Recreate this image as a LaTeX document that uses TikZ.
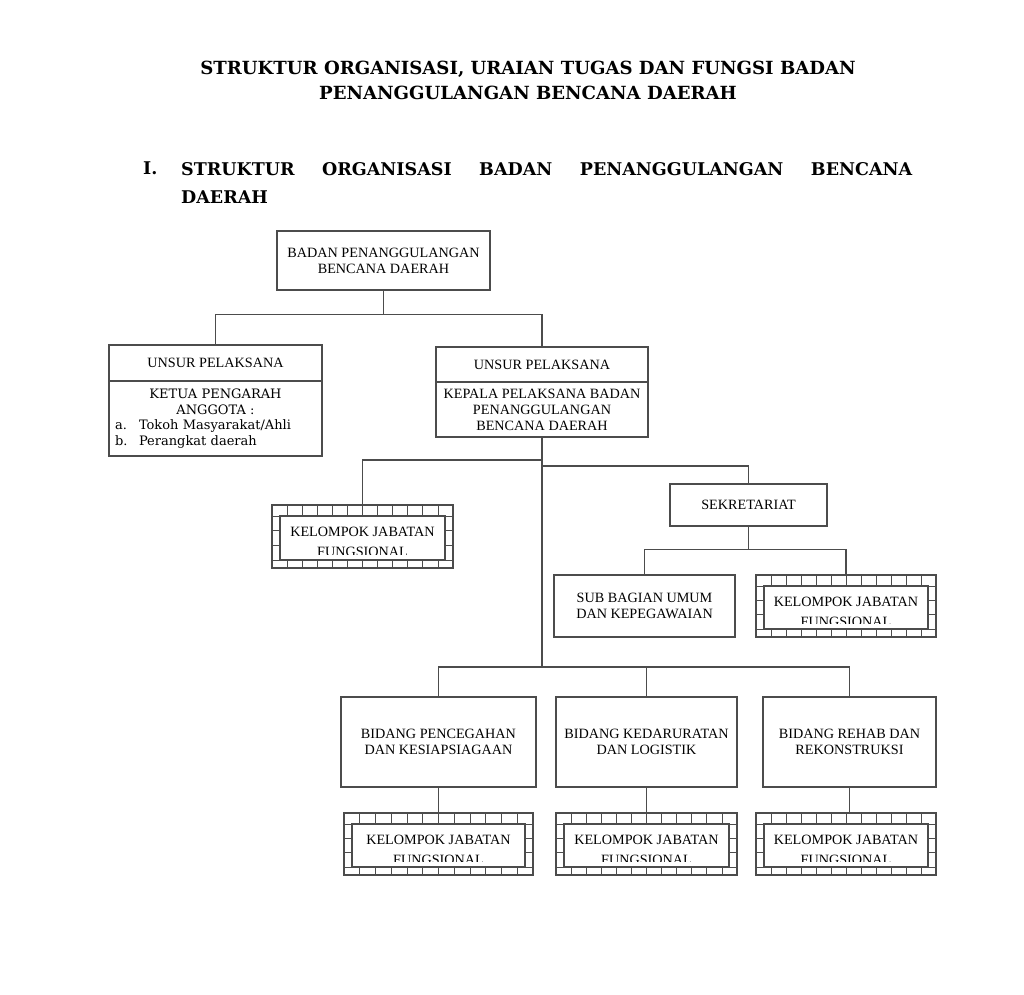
\documentclass[tikz,border=0pt]{standalone}
\usepackage{fontspec}
\setmainfont{Liberation Serif}
\newfontfamily\judulfont{DejaVu Serif}
\newfontfamily\isifont{DejaVu Serif}
\usetikzlibrary{calc}

\tikzset{
  garis/.style={draw=black!70, line width=1.2pt},
  kotak/.style={garis, align=center, inner sep=0pt, font=\fontsize{14.2}{16}\selectfont},
  judul/.style={inner sep=0pt, font=\judulfont\bfseries\fontsize{17.5}{28}\selectfont},
  kisi/.style={draw=black!70, line width=0.8pt},
  kjfdalam/.style={garis, fill=white, inner sep=0pt},
  kjfteks/.style={anchor=north, align=center, inner sep=0pt, font=\fontsize{14.2}{20}\selectfont},
}

% kotak kelompok jabatan fungsional: nama, x1, y1, x2, y2
\newcommand{\kjf}[5]{%
  \node[garis, inner sep=0pt, minimum width={#4-#2}, minimum height={#5-#3}] (#1) at ({(#2+#4)/2},{(#3+#5)/2}) {};
  \begin{scope}
    \clip (#2,#3) rectangle (#4,#5);
    \foreach \k in {1,...,11}
      \draw[kisi] ({#2+\k*(#4-#2)/12},#3) -- ++(0,#5-#3);
    \foreach \k in {0,...,3}
      \draw[kisi] (#2,{#3+11+\k*(#5-#3-19)/3}) -- ++(#4-#2,0);
  \end{scope}
  \node[kjfdalam, minimum width={#4-#2-16}, minimum height={#5-#3-19}] (#1-in) at ({(#2+#4)/2},{(#3+#5)/2+1.5}) {};
  \begin{scope}
    \clip ({#2+9},{#3+12}) rectangle ({#4-9},{#5-14});
    \node[kjfteks] (#1-teks) at ({(#2+#4)/2},{#3+22}) {KELOMPOK JABATAN\\FUNGSIONAL};
  \end{scope}
}

\begin{document}
\begin{tikzpicture}[x=1pt, y=-1pt]
\useasboundingbox (0,0) rectangle (1024,994);

% judul
\node[judul, align=center, font=\judulfont\bfseries\fontsize{18.1}{25}\selectfont] (judul) at (528,80.5)
  {STRUKTUR ORGANISASI, URAIAN TUGAS DAN FUNGSI BADAN\\PENANGGULANGAN BENCANA DAERAH};
\node[judul, anchor=base west] (nomor) at (143,174.5) {I.};
\node[judul, anchor=north west, text width=731pt, align=left] (bagian) at (181,162)
  {STRUKTUR\hfill ORGANISASI\hfill BADAN\hfill PENANGGULANGAN\hfill BENCANA\\DAERAH};

% kotak
\node[kotak, minimum width=213, minimum height=59] (bpbd) at (383.5,260.5) {BADAN PENANGGULANGAN\\BENCANA DAERAH};

\node[kotak, minimum width=213, minimum height=36] (pengarah) at (215.5,363) {UNSUR PELAKSANA};
\node[kotak, minimum width=213, minimum height=75, text width=201, align=left,
  font=\isifont\fontsize{13}{15.7}\selectfont] (anggota) at (215.5,418.5)
  {\hfill KETUA PENGARAH\hfill\null\\\hfill ANGGOTA :\hfill\null\\
   \makebox[24pt][l]{a.}Tokoh Masyarakat/Ahli\\\makebox[24pt][l]{b.}Perangkat daerah};

\node[kotak, minimum width=212, minimum height=35] (pelaksana) at (542,364.5) {UNSUR PELAKSANA};
\node[kotak, minimum width=212, minimum height=55] (kepala) at (542,409.5)
  {KEPALA PELAKSANA BADAN\\PENANGGULANGAN\\BENCANA DAERAH};

\kjf{kjfa}{272}{505}{453}{568}
\node[kotak, minimum width=157, minimum height=42] (sekr) at (748.5,505) {SEKRETARIAT};
\node[kotak, minimum width=181, minimum height=62] (umum) at (644.5,606) {SUB BAGIAN UMUM\\DAN KEPEGAWAIAN};
\kjf{kjfb}{756}{575}{936}{637}

\node[kotak, minimum width=195, minimum height=90] (cegah) at (438.5,742) {BIDANG PENCEGAHAN\\DAN KESIAPSIAGAAN};
\node[kotak, minimum width=181, minimum height=90] (darurat) at (646.5,742) {BIDANG KEDARURATAN\\DAN LOGISTIK};
\node[kotak, minimum width=173, minimum height=90] (rehab) at (849.5,742) {BIDANG REHAB DAN\\REKONSTRUKSI};
\kjf{kjfc}{344}{813}{533}{875}
\kjf{kjfd}{556}{813}{737}{875}
\kjf{kjfe}{756}{813}{936}{875}

% garis
\draw[garis] (bpbd.south) -- ++(0,24) coordinate (cabang1);
\draw[garis] (pengarah.north) |- (cabang1) -| (pelaksana.north);
\coordinate (cabang2) at (542,460);
\coordinate (cabang3) at (542,466);
\coordinate (cabang4) at (542,667);
\draw[garis] (kepala.south) -- (cabang4);
\draw[garis] (kjfa.north) |- (cabang2);
\draw[garis] (cabang3) -| (sekr.north);
\draw[garis] (sekr.south) -- ++(0,23) coordinate (cabang5);
\draw[garis] (umum.north) |- (cabang5) -| (kjfb.north);
\draw[garis] (cegah.north) |- (cabang4) -| (rehab.north);
\draw[garis] (darurat.north) -- (darurat.north |- cabang4);
\draw[garis] (cegah.south) -- (kjfc.north);
\draw[garis] (darurat.south) -- (kjfd.north);
\draw[garis] (rehab.south) -- (rehab.south |- kjfe.north);
\end{tikzpicture}
\end{document}
